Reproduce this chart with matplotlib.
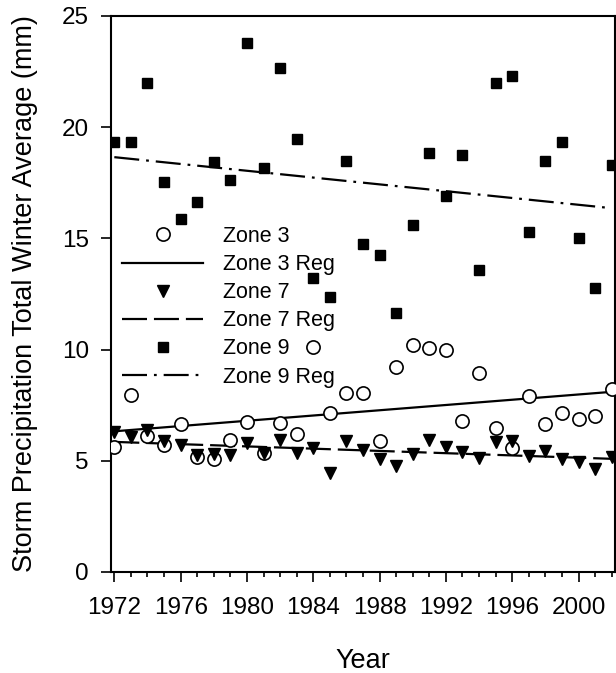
import numpy as np
import matplotlib
matplotlib.use("Agg")
import matplotlib.pyplot as plt
from matplotlib.ticker import MultipleLocator

plt.rcParams['font.family'] = ['Liberation Sans', 'DejaVu Sans']
plt.rcParams['lines.scale_dashes'] = False

# winter storm precipitation averages
years = np.arange(1972, 2003)

zone3 = [5.63, 7.96, 6.12, 5.71, 6.65, 5.19, 5.07, 5.94, 6.76, 5.37, 6.71,
         6.19, 10.13, 7.13, 8.03, 8.06, 5.89, 9.23, 10.19, 10.06, 9.98, 6.79,
         8.96, 6.49, 5.56, 7.93, 6.64, 7.16, 6.87, 7.01, 8.21]
zone7 = [6.31, 6.06, 6.38, 5.90, 5.71, 5.26, 5.31, 5.26, 5.79, 5.37, 5.94,
         5.34, 5.56, 4.44, 5.90, 5.49, 5.07, 4.78, 5.31, 5.94, 5.64, 5.41,
         5.11, 5.86, 5.89, 5.23, 5.45, 5.08, 4.96, 4.63, 5.18]
zone9 = [19.32, 19.35, 22.0, 17.55, 15.87, 16.65, 18.42, 17.61, 23.77, 18.18,
         22.68, 19.47, 13.2, 12.35, 18.5, 14.75, 14.25, 11.63, 15.6, 18.82,
         16.9, 18.73, 13.58, 22.0, 22.3, 15.3, 18.5, 19.32, 15.03, 12.77, 18.28]

xticks = [1972, 1976, 1980, 1984, 1988, 1992, 1996, 2000]
yticks = [0, 5, 10, 15, 20, 25]

fig = plt.figure(figsize=(6.16, 6.73), dpi=100)
ax = fig.add_axes([111/616, 1 - 572/673, 504/616, 556/673])

def reg_line(y):
    # least squares fit over the years
    k, b = np.polyfit(years, y, 1)
    return k * years + b

ax.plot(years, zone3, 'o', ms=9.5, mfc='white', mec='black', mew=1.2,
        ls='none', label='Zone 3', zorder=3)
ax.plot(years, reg_line(zone3), color='black', lw=1.6, label='Zone 3 Reg')
ax.plot(years, zone7, 'v', ms=9, color='black', ls='none',
        label='Zone 7', zorder=4)
ax.plot(years, reg_line(zone7), color='black', lw=1.6, dashes=(18, 5),
        label='Zone 7 Reg')
ax.plot(years, zone9, 's', ms=7, color='black', ls='none',
        label='Zone 9', zorder=4)
ax.plot(years, reg_line(zone9), color='black', lw=1.6,
        dashes=(18, 5, 2, 5), label='Zone 9 Reg')

ax.set_xlim(1971.8, 2002.2)
ax.set_ylim(0, 25)
ax.set_xticks(xticks)
ax.xaxis.set_minor_locator(MultipleLocator(1))
ax.set_yticks(yticks)

ax.tick_params(axis='both', which='major', direction='out', length=7,
               width=1.2, labelsize=17.5)
ax.tick_params(axis='x', which='major', pad=11)
ax.tick_params(axis='y', which='major', pad=9)
ax.tick_params(axis='x', which='minor', direction='out', length=3.5, width=1.2)
for s in ax.spines.values():
    s.set_linewidth(1.5)

ax.set_xlabel('Year', fontsize=19.5)
ax.set_ylabel('Storm Precipitation Total Winter Average (mm)', fontsize=19.5)
ax.xaxis.set_label_coords(0.5, -0.137)
ax.yaxis.set_label_coords(-0.145, 0.5)

ax.legend(loc='upper left', bbox_to_anchor=(122/616, 1 - 226/673),
          bbox_transform=fig.transFigure, frameon=False, fontsize=15.5,
          handlelength=3.77, handletextpad=0.93, labelspacing=0.33,
          borderpad=0, borderaxespad=0, numpoints=1)

fig.savefig('out.png', dpi=100)
